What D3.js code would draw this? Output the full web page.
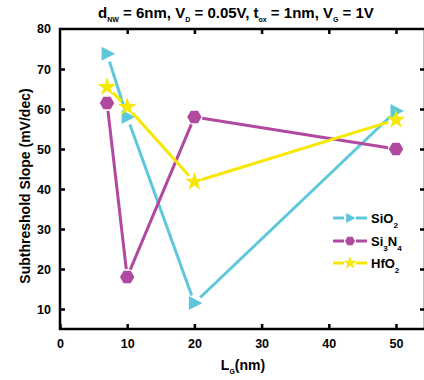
<!DOCTYPE html>
<html>
<head>
<meta charset="utf-8">
<script src="https://cdn.jsdelivr.net/npm/d3@7"></script>
<style>
  html, body { margin: 0; padding: 0; background: #fff; }
  svg { display: block; font-family: "Liberation Sans", Arial, sans-serif; font-weight: bold; }
</style>
</head>
<body>
<svg id="chart" width="424" height="380"></svg>
<script>
// Gate length (nm)
const gateLength = [7, 10, 20, 50];
// Subthreshold slope (mV/dec) for each gate dielectric
const sio2 = [73.8, 58, 11.5, 59.5];
const si3n4 = [61.5, 18, 58, 50];
const hfo2 = [65.5, 60.5, 41.8, 57.3];

const seriesNames = ["SiO2", "Si3N4", "HfO2"];
const seriesColors = ["#5ec8db", "#b0499f", "#f6e800"];
const seriesMarkers = ["triangle", "hexagon", "star"];

const xTicks = [0, 10, 20, 30, 40, 50];
const yTicks = [10, 20, 30, 40, 50, 60, 70, 80];

const svg = d3.select("#chart");

const plotLeft = 60, plotRight = 425, plotTop = 29, plotBottom = 329;
const x = d3.scaleLinear().domain([0, 50]).range([plotLeft, 396]);
const y = d3.scaleLinear().domain([5, 80]).range([plotBottom, plotTop]);

// Frame
svg.append("rect")
  .attr("x", plotLeft).attr("y", plotTop)
  .attr("width", plotRight - plotLeft).attr("height", plotBottom - plotTop)
  .attr("fill", "none").attr("stroke", "#000").attr("stroke-width", 2.5);

// Axes: ticks pointing inward on all four sides
const axisBottom = d3.axisBottom(x).tickValues(xTicks).tickSizeInner(-5).tickSizeOuter(0).tickPadding(10);
const axisTop = d3.axisTop(x).tickValues(xTicks.filter(d => d > 0)).tickSizeInner(-5).tickSizeOuter(0).tickFormat("");
const axisLeft = d3.axisLeft(y).tickValues(yTicks.filter(d => d < 80)).tickSizeInner(-5).tickSizeOuter(0).tickPadding(9);
const axisRight = d3.axisRight(y).tickValues(yTicks.filter(d => d < 80)).tickSizeInner(-5).tickSizeOuter(0).tickFormat("");

function styleAxis(g) {
  g.select(".domain").remove();
  g.selectAll(".tick line").attr("stroke", "#000").attr("stroke-width", 2.5);
  g.selectAll(".tick text").attr("fill", "#000").style("font-size", "12.5px").style("font-weight", "bold")
    .style("font-family", '"Liberation Sans", Arial, sans-serif');
}
svg.append("g").attr("transform", `translate(0,${plotBottom})`).call(axisBottom).call(styleAxis);
svg.append("g").attr("transform", `translate(0,${plotTop})`).call(axisTop).call(styleAxis);
svg.append("g").attr("transform", `translate(${plotLeft},0)`).call(axisLeft).call(styleAxis);
svg.append("g").attr("transform", `translate(${plotRight},0)`).call(axisRight).call(styleAxis);
// Top-left label 80 sits on the frame corner
svg.append("text").attr("x", plotLeft - 9).attr("y", y(80)).attr("dy", "0.32em")
  .attr("text-anchor", "end").style("font-size", "12.5px").text("80");

// Marker shapes
function markerPath(type) {
  if (type === "triangle") {
    return "M-5.5,-7L8,0L-5.5,7Z";
  }
  if (type === "hexagon") {
    const r = 7.2;
    return d3.range(6).map((i, k) => {
      const a = Math.PI / 3 * i;
      return (k ? "L" : "M") + (r * Math.cos(a)).toFixed(2) + "," + (r * Math.sin(a)).toFixed(2);
    }).join("") + "Z";
  }
  return d3.symbol(d3.symbolStar, 110)();
}

const series = [sio2, si3n4, hfo2];
const gap = 8;

series.forEach((vals, si) => {
  const pts = gateLength.map((g, i) => [x(g), y(vals[i])]);
  const g = svg.append("g");
  for (let i = 0; i < pts.length - 1; i++) {
    const [x1, y1] = pts[i], [x2, y2] = pts[i + 1];
    const len = Math.hypot(x2 - x1, y2 - y1);
    const ux = (x2 - x1) / len, uy = (y2 - y1) / len;
    g.append("line")
      .attr("x1", x1 + ux * gap).attr("y1", y1 + uy * gap)
      .attr("x2", x2 - ux * gap).attr("y2", y2 - uy * gap)
      .attr("stroke", seriesColors[si]).attr("stroke-width", 3);
  }
  g.selectAll("path.m").data(pts).join("path")
    .attr("class", "m")
    .attr("d", markerPath(seriesMarkers[si]))
    .attr("transform", d => `translate(${d[0]},${d[1]})`)
    .attr("fill", seriesColors[si]);
});

// Legend
const legendRows = [218, 241, 263];
legendRows.forEach((ly, i) => {
  const lg = svg.append("g");
  lg.append("line").attr("x1", 333).attr("x2", 344).attr("y1", ly).attr("y2", ly)
    .attr("stroke", seriesColors[i]).attr("stroke-width", 3);
  lg.append("line").attr("x1", 356).attr("x2", 367).attr("y1", ly).attr("y2", ly)
    .attr("stroke", seriesColors[i]).attr("stroke-width", 3);
  lg.append("path").attr("d", markerPath(seriesMarkers[i]))
    .attr("transform", `translate(350,${ly}) scale(0.7)`)
    .attr("fill", seriesColors[i]);
  const t = lg.append("text").attr("x", 371).attr("y", ly + 4.5).style("font-size", "13px");
  if (i === 1) {
    t.append("tspan").text("Si");
    t.append("tspan").attr("dy", 5).style("font-size", "8px").text("3");
    t.append("tspan").attr("dy", -5).text("N");
    t.append("tspan").attr("dy", 5).style("font-size", "8px").text("4");
  } else {
    t.append("tspan").text(i === 0 ? "SiO" : "HfO");
    t.append("tspan").attr("dy", 5).style("font-size", "8px").text("2");
  }
});

// Axis titles
const xl = svg.append("text").attr("x", 243).attr("y", 370).attr("text-anchor", "middle").style("font-size", "14px");
xl.append("tspan").text("L");
xl.append("tspan").attr("dy", 4).style("font-size", "7px").text("G");
xl.append("tspan").attr("dy", -4).text("(nm)");

svg.append("text")
  .attr("transform", "translate(30,186) rotate(-90)")
  .attr("text-anchor", "middle").style("font-size", "14px")
  .text("Subthreshold Slope (mV/dec)");

// Title with subscripts; each main run restores the baseline after a subscript
const title = svg.append("text").attr("x", 236).attr("y", 18).attr("text-anchor", "middle").style("font-size", "15px");
const parts = [["d", "NW"], [" = 6nm, V", "D"], [" = 0.05V, t", "ox"], [" = 1nm, V", "G"], [" = 1V", null]];
let lowered = false;
parts.forEach(([main, sub]) => {
  title.append("tspan").attr("dy", lowered ? -4 : 0).text(main);
  lowered = false;
  if (sub) {
    title.append("tspan").attr("dy", 4).style("font-size", "7px").text(sub);
    lowered = true;
  }
});
</script>
</body>
</html>
